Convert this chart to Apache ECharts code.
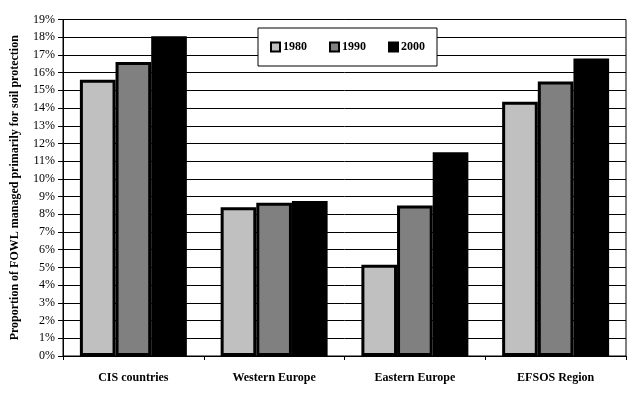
<!DOCTYPE html>
<html>
<head>
<meta charset="utf-8">
<script src="https://cdn.jsdelivr.net/npm/echarts@6/dist/echarts.min.js"></script>
<style>html,body{margin:0;padding:0;background:#fff;}#c{width:642px;height:394px;}</style>
</head>
<body>
<div id="c"></div>
<script>
const categories = ['CIS countries', 'Western Europe', 'Eastern Europe', 'EFSOS Region'];
const years = ['1980', '1990', '2000'];
const v1980 = [15.6, 8.4, 5.15, 14.35];
const v1990 = [16.6, 8.65, 8.5, 15.5];
const v2000 = [18.05, 8.75, 11.5, 16.8];
const colors = ['#C0C0C0', '#808080', '#000000'];
const yTicks = { min: 0, max: 19, interval: 1 };

const serif = '"Liberation Serif", "Times New Roman", serif';
const chart = echarts.init(document.getElementById('c'), null, { renderer: 'canvas' });
const seriesData = [v1980, v1990, v2000];
chart.setOption({
  animation: false,
  backgroundColor: '#fff',
  grid: { left: 63, right: 16, top: 19.5, bottom: 38, show: true, borderColor: '#000', borderWidth: 1, backgroundColor: 'transparent' },
  legend: {
    left: 258, top: 28,
    padding: [13, 12, 13, 12],
    itemWidth: 9, itemHeight: 9, itemGap: 22,
    backgroundColor: '#fff', borderColor: '#000', borderWidth: 1,
    icon: 'rect',
    textStyle: { fontFamily: serif, fontWeight: 'bold', fontSize: 12, color: '#000', padding: [0, 0, 0, -2] },
    data: years
  },
  xAxis: {
    type: 'category',
    data: categories,
    axisLine: { lineStyle: { color: '#000', width: 1 } },
    axisTick: { show: true, length: 4, lineStyle: { color: '#000' }, alignWithLabel: false },
    axisLabel: { fontFamily: serif, fontWeight: 'bold', fontSize: 12, color: '#000', margin: 16 }
  },
  yAxis: {
    type: 'value',
    min: yTicks.min, max: yTicks.max, interval: yTicks.interval,
    name: 'Proportion of FOWL managed primarily for soil protection',
    nameLocation: 'middle', nameGap: 42, nameRotate: 90,
    nameTextStyle: { fontFamily: serif, fontWeight: 'bold', fontSize: 12, color: '#000' },
    axisLine: { show: true, lineStyle: { color: '#000' } },
    axisTick: { show: true, length: 5, lineStyle: { color: '#000' } },
    axisLabel: { formatter: '{value}%', fontFamily: serif, fontSize: 12, color: '#000', margin: 8 },
    splitLine: { show: true, lineStyle: { color: '#000', width: 1 } }
  },
  series: years.map((y, i) => ({
    name: y,
    type: 'bar',
    data: seriesData[i],
    barGap: '0%',
    barCategoryGap: '24%',
    itemStyle: { color: colors[i], borderColor: '#000', borderWidth: 3 },
    emphasis: { disabled: true }
  }))
});
</script>
</body>
</html>
